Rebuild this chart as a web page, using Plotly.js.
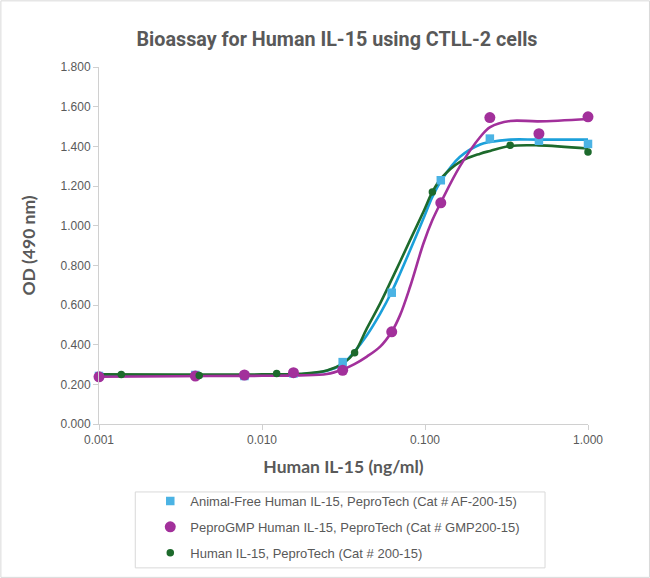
<!DOCTYPE html>
<html>
<head>
<meta charset="utf-8">
<script src="https://cdn.plot.ly/plotly-3.0.1.min.js"></script>
<style>
html,body{margin:0;padding:0;background:#fff;}
#chart{width:650px;height:578px;}
</style>
</head>
<body>
<div id="chart"></div>
<script>
// Series names
const seriesNames = [
  "Animal-Free Human IL-15, PeproTech (Cat # AF-200-15)",
  "PeproGMP Human IL-15, PeproTech (Cat # GMP200-15)",
  "Human IL-15, PeproTech (Cat # 200-15)"
];
// Measured points (dose in ng/ml, OD 490 nm)
const doseTwoFold = [0.001, 0.0039, 0.0078, 0.0156, 0.03125, 0.0625, 0.125, 0.25, 0.5, 1.0];
const afOD  = [0.242, 0.247, 0.242, 0.255, 0.312, 0.662, 1.229, 1.439, 1.428, 1.412];
const gmpOD = [0.238, 0.242, 0.247, 0.259, 0.271, 0.465, 1.115, 1.545, 1.464, 1.549];
const doseThreeFold = [0.00137, 0.00412, 0.0123, 0.037, 0.111, 0.333, 1.0];
const stdOD = [0.250, 0.245, 0.255, 0.359, 1.170, 1.405, 1.372];
// Fitted curves
const curveDose = [0.001, 0.003, 0.01, 0.0171, 0.025, 0.0313, 0.0369, 0.044, 0.0531, 0.0625, 0.0703, 0.081, 0.0978, 0.111, 0.127, 0.164, 0.218, 0.251, 0.333, 0.496, 1.0];
const afCurve  = [0.243, 0.245, 0.246, 0.250, 0.268, 0.303, 0.365, 0.448, 0.557, 0.667, 0.759, 0.876, 1.036, 1.145, 1.233, 1.347, 1.409, 1.422, 1.434, 1.434, 1.434];
const gmpCurve = [0.238, 0.241, 0.243, 0.245, 0.252, 0.275, 0.302, 0.340, 0.390, 0.465, 0.549, 0.692, 0.910, 1.028, 1.128, 1.300, 1.447, 1.497, 1.528, 1.526, 1.538];
const stdCurve = [0.250, 0.249, 0.250, 0.253, 0.270, 0.305, 0.359, 0.482, 0.608, 0.729, 0.818, 0.927, 1.070, 1.170, 1.243, 1.322, 1.363, 1.377, 1.402, 1.405, 1.389];
// Axis ticks
const xTickVals = [0.001, 0.01, 0.1, 1];
const xTickText = ["0.001", "0.010", "0.100", "1.000"];

const cBlueM = "#4bb3e4", cBlueL = "#1ba0da";
const cMag = "#a2309b";
const cGreen = "#1d6a2c";
const txt = "#595959";
const axisCol = "#d0d0d0";

const traces = [
  {x: curveDose, y: afCurve, mode: "lines", line: {color: cBlueL, width: 2.6, shape: "spline", smoothing: 1}, showlegend: false, hoverinfo: "skip", cliponaxis: false},
  {x: curveDose, y: stdCurve, mode: "lines", line: {color: cGreen, width: 2.6, shape: "spline", smoothing: 1}, showlegend: false, hoverinfo: "skip", cliponaxis: false},
  {x: curveDose, y: gmpCurve, mode: "lines", line: {color: cMag, width: 2.6, shape: "spline", smoothing: 1}, showlegend: false, hoverinfo: "skip", cliponaxis: false},
  {x: doseTwoFold, y: afOD, mode: "markers", name: seriesNames[0], legendgroup: "a", marker: {symbol: "square", size: 8.5, color: cBlueM}, cliponaxis: false},
  {x: doseTwoFold, y: gmpOD, mode: "markers", name: seriesNames[1], legendgroup: "b", marker: {symbol: "circle", size: 11, color: cMag}, cliponaxis: false},
  {x: doseThreeFold, y: stdOD, mode: "markers", name: seriesNames[2], legendgroup: "c", marker: {symbol: "circle", size: 7.5, color: cGreen}, cliponaxis: false}
];

const L = 98.7, R = 588, T = 66.7, B = 424, W = 650, H = 578;
const pw = R - L, ph = B - T;
const px = v => (v - L) / pw;
const py = v => (B - v) / ph;

const layout = {
  width: W, height: H,
  margin: {l: L, r: W - R, t: T, b: H - B, autoexpand: false},
  paper_bgcolor: "#ffffff", plot_bgcolor: "#ffffff",
  font: {family: "Liberation Sans, Arial, sans-serif", color: txt, size: 12},
  title: {
    text: "Bioassay for Human IL-15 using CTLL-2 cells",
    font: {family: "Roboto, Liberation Sans, sans-serif", size: 21, color: txt, weight: "bold"},
    x: 337 / W, xref: "container", xanchor: "center",
    y: 1 - 39 / H, yref: "container", yanchor: "middle"
  },
  xaxis: {
    type: "log", range: [-3, 0], automargin: false,
    tickvals: xTickVals, ticktext: xTickText,
    showgrid: false, zeroline: false,
    showline: true, linecolor: axisCol, linewidth: 1,
    ticks: "outside", ticklen: 5, tickcolor: axisCol,
    tickfont: {size: 12, color: txt},
    title: {text: "Human IL-15 (ng/ml)", font: {family: "Lato, Liberation Sans, sans-serif", size: 17.5, color: txt, weight: "bold"}, standoff: 14}
  },
  yaxis: {
    range: [0, 1.8], dtick: 0.2, tick0: 0, tickformat: ".3f", automargin: false,
    showgrid: false, zeroline: false,
    showline: true, linecolor: axisCol, linewidth: 1,
    ticks: "outside", ticklen: 5, tickcolor: axisCol,
    tickfont: {size: 12, color: txt},
    title: {text: "OD (490 nm)", font: {family: "Lato, Liberation Sans, sans-serif", size: 17.5, color: txt, weight: "bold"}, standoff: 20}
  },
  legend: {
    x: px(150), y: py(486), xanchor: "left", yanchor: "top",
    xref: "paper", yref: "paper",
    bgcolor: "rgba(0,0,0,0)", borderwidth: 0,
    font: {size: 13, color: txt},
    traceorder: "grouped", tracegroupgap: 6
  },
  shapes: [
    {type: "rect", xref: "paper", yref: "paper", x0: px(135), x1: px(545), y0: py(568), y1: py(492), line: {color: "#d9d9d9", width: 1}, fillcolor: "rgba(0,0,0,0)", layer: "below"},
    {type: "rect", xref: "paper", yref: "paper", x0: px(0.5), x1: px(649.5), y0: py(577.5), y1: py(0.5), line: {color: "#d9d9d9", width: 1}, fillcolor: "rgba(0,0,0,0)", layer: "below"}
  ],
  showlegend: true
};

Plotly.newPlot("chart", traces, layout, {displayModeBar: false, staticPlot: true}).then(gd => {
  // The reference title uses a narrow face: fit the real text to its measured width
  const t = gd.querySelector(".gtitle");
  if (t) {
    t.setAttribute("textLength", "401");
    t.setAttribute("lengthAdjust", "spacingAndGlyphs");
  }
});
</script>
</body>
</html>
